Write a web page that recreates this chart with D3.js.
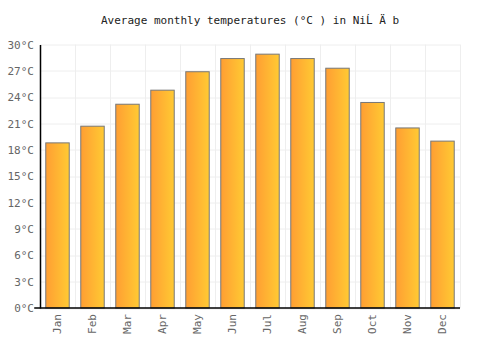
<!DOCTYPE html>
<html>
<head>
<meta charset="utf-8">
<script src="https://cdn.jsdelivr.net/npm/d3@7"></script>
<style>
  body { margin: 0; background: #fff; }
  text { font-family: "DejaVu Sans Mono", monospace; }
</style>
</head>
<body>
<svg id="chart" width="500" height="350"></svg>
<script>
const months = ["Jan", "Feb", "Mar", "Apr", "May", "Jun", "Jul", "Aug", "Sep", "Oct", "Nov", "Dec"];
const temps = [18.8, 20.7, 23.2, 24.8, 26.9, 28.4, 28.9, 28.4, 27.3, 23.4, 20.5, 19.0];
const yTicks = [0, 3, 6, 9, 12, 15, 18, 21, 24, 27, 30];

const margin = { top: 44.5, right: 40, bottom: 42, left: 40 },
    width = 500 - margin.left - margin.right,
    height = 350 - margin.top - margin.bottom;

const svg = d3.select("#chart");

// gradient for bars
const grad = svg.append("defs").append("linearGradient")
    .attr("id", "barGrad")
    .attr("x1", "0%").attr("x2", "100%").attr("y1", "0%").attr("y2", "0%");
grad.append("stop").attr("offset", "0%").attr("stop-color", "#ff9e33");
grad.append("stop").attr("offset", "100%").attr("stop-color", "#ffca33");

svg.append("text")
    .attr("x", 250).attr("y", 24)
    .attr("text-anchor", "middle")
    .style("font-size", "11px")
    .attr("fill", "#222")
    .text("Average monthly temperatures (°C ) in NiĹ Ä b");

const g = svg.append("g").attr("transform", `translate(${margin.left},${margin.top})`);

const x = d3.scaleBand().domain(months).range([0, width]).paddingInner(0.33).paddingOuter(0.165);
const xGrid = d3.scaleBand().domain(months).range([0, width]);
const y = d3.scaleLinear().domain([0, 30]).range([height, 0]);

// grid
g.append("g").selectAll("line.h")
    .data(yTicks)
    .join("line")
    .attr("x1", 0).attr("x2", width)
    .attr("y1", d => Math.round(y(d)) + 0.5).attr("y2", d => Math.round(y(d)) + 0.5)
    .attr("stroke", "#eeeeee");
g.append("g").selectAll("line.v")
    .data(months)
    .join("line")
    .attr("x1", d => Math.round(xGrid(d) + xGrid.bandwidth()) + 0.5)
    .attr("x2", d => Math.round(xGrid(d) + xGrid.bandwidth()) + 0.5)
    .attr("y1", 0).attr("y2", height)
    .attr("stroke", "#eeeeee");

// bars
g.append("g").selectAll("rect")
    .data(temps)
    .join("rect")
    .attr("x", (d, i) => x(months[i]))
    .attr("y", d => y(d))
    .attr("width", x.bandwidth())
    .attr("height", d => height - y(d))
    .attr("fill", "url(#barGrad)")
    .attr("stroke", "#777")
    .attr("stroke-width", 1);

// y axis
const yAxis = g.append("g")
    .call(d3.axisLeft(y).tickValues(yTicks).tickSize(0).tickPadding(6).tickFormat(d => d + "°C"));
yAxis.select(".domain").attr("stroke", "#000").attr("stroke-width", 1.5);
yAxis.selectAll("text").style("font-size", "11px").attr("fill", "#666").style("font-family", "DejaVu Sans Mono, monospace");

// x axis
const xAxis = g.append("g")
    .attr("transform", `translate(0,${height})`)
    .call(d3.axisBottom(x).tickSize(0).tickPadding(6));
xAxis.select(".domain").attr("stroke", "#000").attr("stroke-width", 1.5)
    .attr("d", `M${-x.step() * 0.165},0H${width}`);
xAxis.selectAll("text")
    .style("font-size", "11px")
    .attr("fill", "#666")
    .style("font-family", "DejaVu Sans Mono, monospace")
    .attr("text-anchor", "end")
    .attr("transform", "rotate(-90)")
    .attr("x", -6).attr("y", 0).attr("dy", "0.35em");
</script>
</body>
</html>
